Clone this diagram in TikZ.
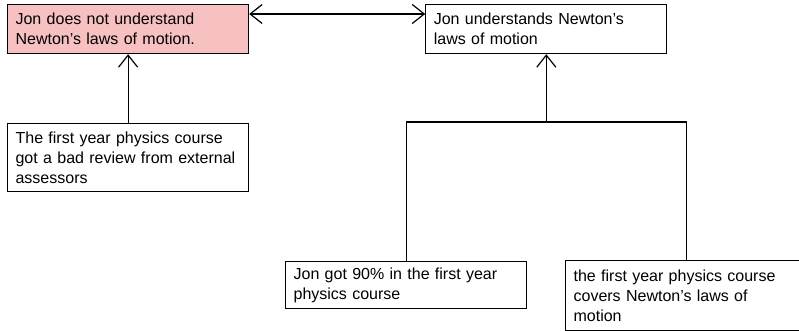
\documentclass[tikz,border=0pt]{standalone}
\usepackage{fontspec}
\setmainfont{Liberation Sans}
\usepackage{xcolor}
\usetikzlibrary{arrows.meta,positioning}
\definecolor{claimpink}{RGB}{248,193,193}
\tikzset{
	claim/.style={draw, line width=1.2pt, anchor=north west, align=left, text width=225pt, inner xsep=8pt, inner ysep=5pt, font=\fontsize{16}{20}\selectfont},
	link/.style={line width=1.2pt},
	support/.style={link, -{Straight Barb[length=12pt, width=19pt]}},
	conflict/.style={link, {Straight Barb[length=12pt, width=19pt]}-{Straight Barb[length=12pt, width=19pt]}}
}
\begin{document}
\begin{tikzpicture}
	\useasboundingbox (0pt,0pt) rectangle (799pt,-331pt);
	\node[claim, fill=claimpink, minimum height=49pt] (notund) at (7pt,-4pt) {Jon does not understand\\Newton’s laws of motion.};
	\node[claim, minimum height=49pt, right=176pt of notund] (und) {Jon understands Newton’s\\laws of motion};
	\node[claim, minimum height=68pt, below=69pt of notund] (review) {The first year physics course\\got a bad review from external\\assessors};
	\node[claim, minimum height=47pt] (grade) at (285pt,-261pt) {Jon got 90\% in the first year\\physics course};
	\node[claim, minimum height=70pt] (covers) at (565pt,-260pt) {the first year physics course\\covers Newton’s laws of\\motion};
	\coordinate (join) at (und.south |- 0pt,-122pt);
	\draw[conflict] ([yshift=-10pt]notund.north east) -- ([yshift=-10pt]und.north west);
	\draw[support] (review) -- (notund);
	\draw[link] (grade.north) |- (join) -| (covers.north);
	\draw[support] (join) -- (und.south);
\end{tikzpicture}
\end{document}
